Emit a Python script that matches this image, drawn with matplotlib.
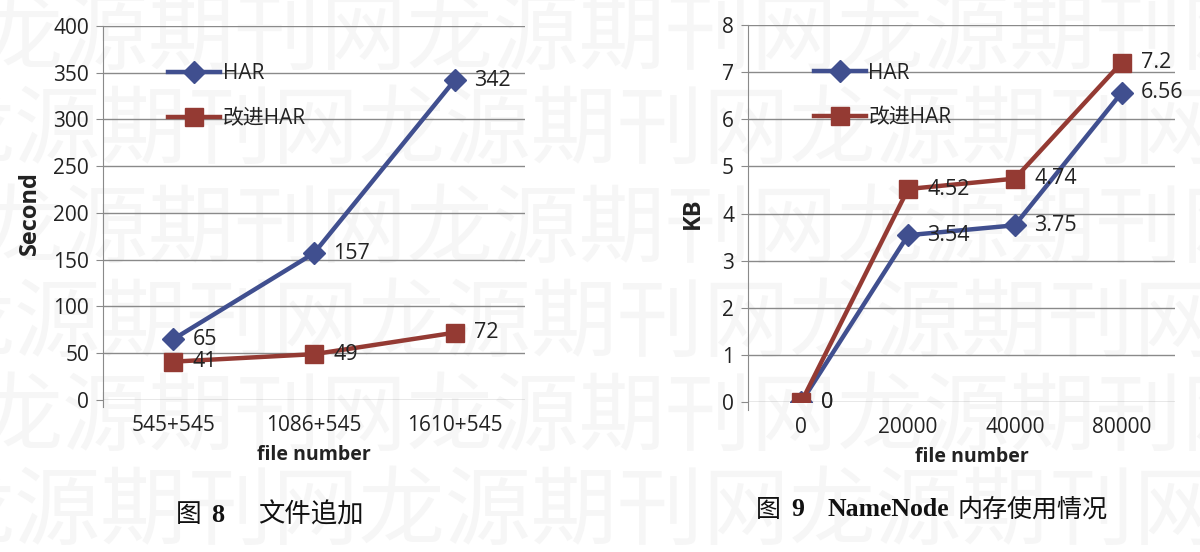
import matplotlib.pyplot as plt

plt.rcParams['font.family'] = ['Open Sans', 'Noto Sans CJK SC']

# 图 8 文件追加
cat8 = ['545+545', '1086+545', '1610+545']
har8 = [65, 157, 342]
imp8 = [41, 49, 72]

# 图 9 NameNode 内存使用情况
cat9 = ['0', '20000', '40000', '80000']
har9 = [0, 3.54, 3.75, 6.56]
imp9 = [0, 4.52, 4.74, 7.2]

blue = '#404F8F'
red = '#943A33'
txt = '#222222'
grid = '#8a8a8a'

fig = plt.figure(figsize=(12, 5.52), dpi=100)

# faint watermark in background
wm = '龙源期刊网' * 4
for i, y in enumerate([0.93, 0.76, 0.58, 0.41, 0.24, 0.07]):
    fig.text(-0.02 - 0.04 * (i % 2), y, wm, fontsize=62, color='#f6f6f6',
             va='center', ha='left', zorder=-5, family=['Noto Sans CJK SC'])


def draw(ax, cats, har, imp, ymax, ystep, fmt, ylabel, ylab_x, xlab_xy):
    ax.set_zorder(2)
    ax.set_facecolor('none')
    x = range(len(cats))
    ax.plot(x, har, color=blue, lw=3.2, marker='D', ms=11, label='HAR', zorder=3)
    ax.plot(x, imp, color=red, lw=3.2, marker='s', ms=13, label='改进HAR', zorder=3)
    for xi, v in zip(x, har):
        ax.annotate(fmt(v), (xi, v), xytext=(14, 0), textcoords='offset points',
                    va='center', ha='left', fontsize=15.5, color=txt, zorder=4)
    for xi, v in zip(x, imp):
        ax.annotate(fmt(v), (xi, v), xytext=(14, 0), textcoords='offset points',
                    va='center', ha='left', fontsize=15.5, color=txt, zorder=4)
    ax.set_xlim(-0.5, len(cats) - 0.5)
    ax.set_ylim(0, ymax)
    ax.set_yticks([i * ystep for i in range(int(round(ymax / ystep)) + 1)])
    ax.set_xticks(list(x))
    ax.set_xticklabels(cats)
    ax.grid(axis='y', color=grid, lw=1)
    ax.set_axisbelow(True)
    for s in ['top', 'right', 'bottom']:
        ax.spines[s].set_visible(False)
    ax.spines['left'].set_color(grid)
    ax.spines['left'].set_bounds(-ymax * 0.02, ymax)
    ax.tick_params(axis='y', length=5, color=grid, pad=5, labelsize=15, labelcolor=txt)
    ax.tick_params(axis='x', length=0, pad=11, labelsize=15, labelcolor=txt)
    ax.set_ylabel(ylabel, fontsize=17, fontweight='bold', color=txt)
    ax.yaxis.set_label_coords(ylab_x, 0.5)
    ax.set_xlabel('file number', fontsize=14, fontweight='bold', color=txt)
    ax.xaxis.set_label_coords(*xlab_xy)
    ax.legend(loc='upper left', bbox_to_anchor=(0.155, 0.9), frameon=False,
              handlelength=2.5, handletextpad=0.1, labelspacing=1.15,
              borderpad=0, borderaxespad=0, fontsize=15, labelcolor=txt)


ax1 = fig.add_axes([0.0858, 0.2754, 0.3517, 0.6775])
draw(ax1, cat8, har8, imp8, 400, 50, lambda v: str(v), 'Second', -0.145, (0.5, -0.12))

ax2 = fig.add_axes([0.6233, 0.2717, 0.3558, 0.6830])
draw(ax2, cat9, har9, imp9, 8, 1, lambda v: f'{v:g}', 'KB', -0.1, (0.525, -0.12))

# captions
cjk = ['Noto Sans CJK SC']
ser = ['Liberation Serif']
ink = '#111111'
fig.text(176 / 1200, 1 - 515 / 552, '图', fontsize=18.5, family=cjk, va='center', color=ink)
fig.text(211 / 1200, 1 - 515 / 552, '8', fontsize=19, family=ser, fontweight='bold', va='center', color=ink)
fig.text(258 / 1200, 1 - 515 / 552, '文件追加', fontsize=19, family=cjk, va='center', color=ink)
fig.text(756 / 1200, 1 - 510 / 552, '图', fontsize=18, family=cjk, va='center', color=ink)
fig.text(791 / 1200, 1 - 510 / 552, '9', fontsize=18.5, family=ser, fontweight='bold', va='center', color=ink)
fig.text(827 / 1200, 1 - 510 / 552, 'NameNode', fontsize=18.5, family=ser, fontweight='bold', va='center', color=ink)
fig.text(957 / 1200, 1 - 510 / 552, '内存使用情况', fontsize=18, family=cjk, va='center', color=ink)

fig.savefig('out.png', dpi=100, facecolor='white')
